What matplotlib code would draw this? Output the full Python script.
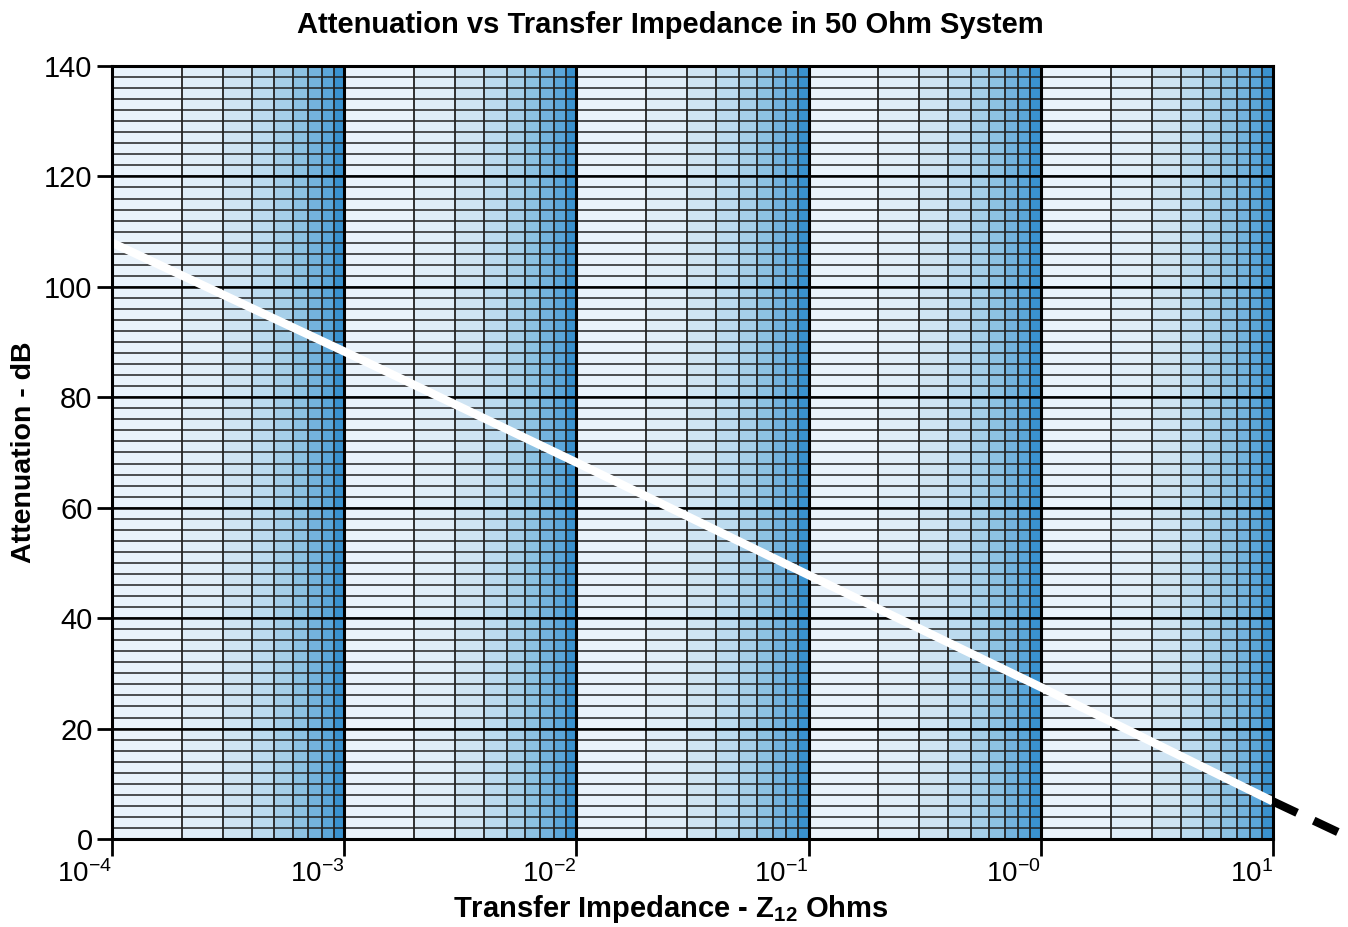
import matplotlib
matplotlib.use('Agg')
import matplotlib.pyplot as plt
import numpy as np

plt.rcParams['font.family'] = ['Liberation Sans', 'DejaVu Sans']
plt.rcParams['mathtext.fontset'] = 'custom'
plt.rcParams['mathtext.rm'] = 'Liberation Sans'
plt.rcParams['mathtext.it'] = 'Liberation Sans'
plt.rcParams['mathtext.bf'] = 'Liberation Sans:bold'

# data
decades = [1e-4, 1e-3, 1e-2, 1e-1, 1e0]
x_ticks = [1e-4, 1e-3, 1e-2, 1e-1, 1e0, 1e1]
x_labels = ['10$^{-4}$', '10$^{-3}$', '10$^{-2}$', '10$^{-1}$', '10$^{-0}$', '10$^{1}$']
y_ticks = [0, 20, 40, 60, 80, 100, 120, 140]

line_z = [1e-4, 1e-3, 1e-2, 1e-1, 1e0, 1e1]
line_db = [108.0, 88.3, 68.2, 47.8, 27.5, 6.8]
dash_z = [1e1, 19.6]
dash_db = [6.8, 1.0]

# shades for the 9 cells inside each decade, light to dark
shades = ['#eaf3fb', '#dfedf8', '#cfe4f3', '#bcdbef', '#a6cfe9',
          '#8dc2e3', '#74b3de', '#5ca7da', '#3a92cf']

fig = plt.figure(figsize=(13.48, 9.27), dpi=100)
ax = fig.add_axes([112 / 1348, 1 - 839 / 927, 1161 / 1348, 773 / 927])
ax.set_xscale('log')
ax.set_xlim(1e-4, 1e1)
ax.set_ylim(0, 140)

for d in decades:
    for k in range(1, 10):
        ax.axvspan(d * k, d * (k + 1), color=shades[k - 1], lw=0, zorder=0)

# minor grid
ax.hlines(np.arange(2, 140, 2), 1e-4, 1e1, color='#222222', lw=1.1, zorder=1)
minor_x = [d * k for d in decades for k in range(2, 10)]
ax.vlines(minor_x, 0, 140, color='#222222', lw=1.3, zorder=1)
# major grid
ax.hlines(y_ticks[1:-1], 1e-4, 1e1, color='black', lw=1.8, zorder=2)
ax.vlines(x_ticks[1:-1], 0, 140, color='black', lw=2.2, zorder=2)

ax.plot(line_z, line_db, color='white', lw=6, solid_capstyle='butt', zorder=4)
ax.plot(dash_z, dash_db, color='black', lw=6, linestyle=(0, (3.2, 2.2)),
        solid_capstyle='butt', dash_capstyle='butt', clip_on=False, zorder=4)

for s in ax.spines.values():
    s.set_linewidth(2.2)
    s.set_zorder(5)

ax.set_xticks(x_ticks)
ax.set_xticklabels(x_labels, fontsize=20, ha='right')
ax.xaxis.set_minor_locator(matplotlib.ticker.NullLocator())
ax.set_yticks(y_ticks)
ax.set_yticklabels([str(v) for v in y_ticks], fontsize=21)
ax.tick_params(axis='x', length=12, width=2, pad=3)
ax.tick_params(axis='y', length=11, width=2, pad=3)

ax.set_xlabel('Transfer Impedance - Z$_{\\mathbf{12}}$ Ohms', fontsize=21,
              fontweight='bold', labelpad=4, x=0.481)
ax.set_ylabel('Attenuation - dB', fontsize=20.5, fontweight='bold', labelpad=5)
ax.set_title('Attenuation vs Transfer Impedance in 50 Ohm System',
             fontsize=21, fontweight='bold', pad=24, x=0.481)

fig.savefig('out.png', dpi=100)
